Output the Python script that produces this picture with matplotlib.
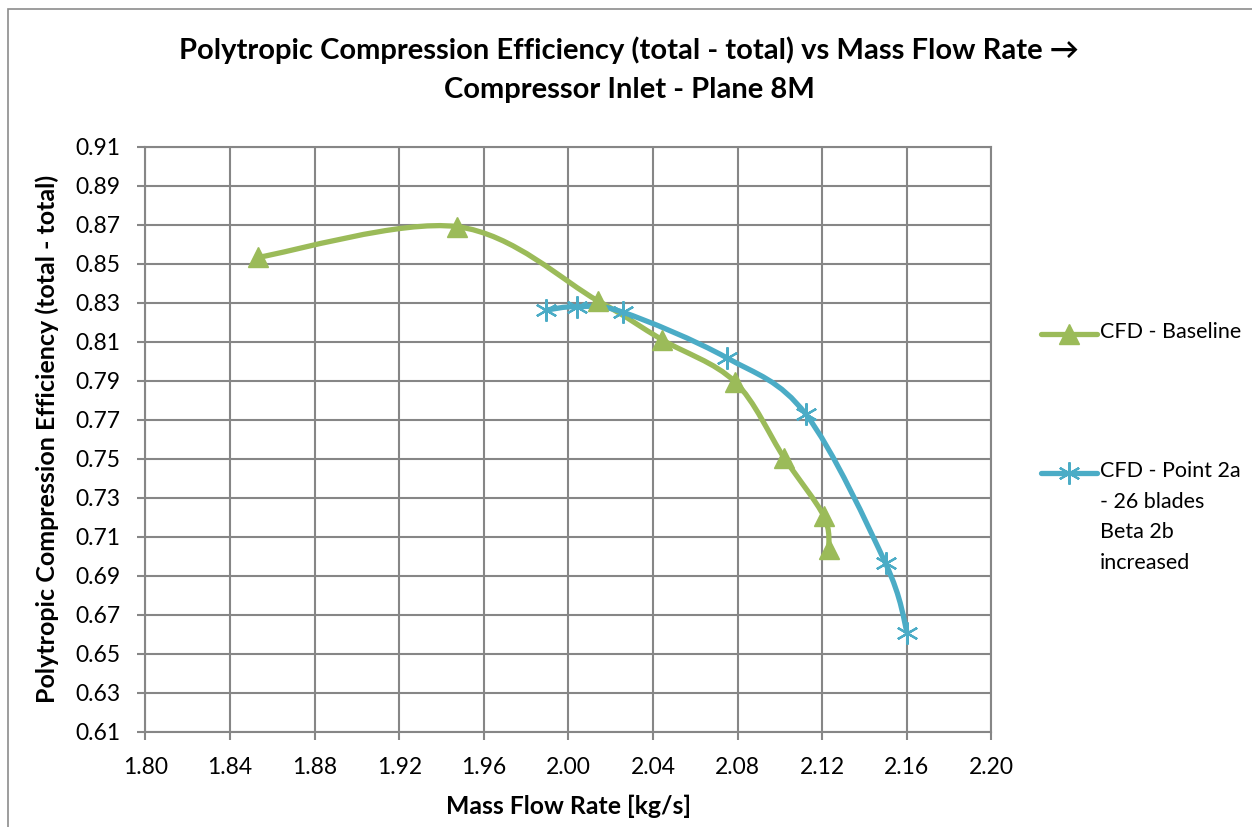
import matplotlib
matplotlib.use("Agg")
import matplotlib.pyplot as plt
from matplotlib.path import Path
from matplotlib.patches import PathPatch, Rectangle
from matplotlib.lines import Line2D

# data
baseline_flow = [1.8533, 1.9474, 2.0139, 2.0443, 2.0787, 2.1020, 2.1208, 2.1232]
baseline_eff = [0.8533, 0.8690, 0.8310, 0.8110, 0.7895, 0.7505, 0.7205, 0.7035]
point2a_flow = [1.9894, 2.0039, 2.0256, 2.0748, 2.1123, 2.1500, 2.1602]
point2a_eff = [0.8262, 0.8280, 0.8252, 0.8018, 0.7728, 0.6963, 0.6608]

x_ticks = [1.80, 1.84, 1.88, 1.92, 1.96, 2.00, 2.04, 2.08, 2.12, 2.16, 2.20]
y_ticks = [0.61, 0.63, 0.65, 0.67, 0.69, 0.71, 0.73, 0.75, 0.77, 0.79,
           0.81, 0.83, 0.85, 0.87, 0.89, 0.91]

GREEN = "#9BBB59"
BLUE = "#4BACC6"
GRID = "#868686"
FONT = ["Lato", "DejaVu Sans"]

plt.rcParams["font.family"] = FONT


def smooth_path(xs, ys):
    # Excel-style smoothed line: cubic bezier through the points (Catmull-Rom)
    pts = list(zip(xs, ys))
    n = len(pts)
    verts = [pts[0]]
    codes = [Path.MOVETO]
    for i in range(n - 1):
        p0 = pts[max(i - 1, 0)]
        p1 = pts[i]
        p2 = pts[i + 1]
        p3 = pts[min(i + 2, n - 1)]
        c1 = (p1[0] + (p2[0] - p0[0]) / 6, p1[1] + (p2[1] - p0[1]) / 6)
        c2 = (p2[0] - (p3[0] - p1[0]) / 6, p2[1] - (p3[1] - p1[1]) / 6)
        verts += [c1, c2, p2]
        codes += [Path.CURVE4] * 3
    return Path(verts, codes)


fig = plt.figure(figsize=(12.52, 8.27), dpi=100)
ax = fig.add_axes([0.1162, 0.1152, 0.7918 - 0.1162, 0.8226 - 0.1152])

# chart border
fig.patches.append(Rectangle((7.5 / 1252, -0.01), 1.0, 1 - 9 / 827 + 0.01,
                             transform=fig.transFigure, fill=False,
                             edgecolor="#8c8c8c", linewidth=1.2))

ax.set_xlim(1.80, 2.20)
ax.set_ylim(0.61, 0.91)
ax.set_xticks(x_ticks)
ax.set_yticks(y_ticks)
ax.set_xticklabels([f"{v:.2f}" for v in x_ticks])
ax.set_yticklabels([f"{v:.2f}" for v in y_ticks])
ax.grid(True, color=GRID, linewidth=1.5)
ax.set_axisbelow(True)
for s in ax.spines.values():
    s.set_color(GRID)
    s.set_linewidth(1.5)
ax.tick_params(direction="out", length=6, width=1.5, color=GRID,
               labelsize=16.5, pad=12)

# curves
ax.add_patch(PathPatch(smooth_path(baseline_flow, baseline_eff), fill=False,
                       edgecolor=GREEN, linewidth=3.8, capstyle="round", zorder=3))
ax.add_patch(PathPatch(smooth_path(point2a_flow, point2a_eff), fill=False,
                       edgecolor=BLUE, linewidth=3.8, capstyle="round", zorder=3))
ax.plot(baseline_flow, baseline_eff, linestyle="none", marker="^",
        markersize=14, color=GREEN, zorder=4)
ax.plot(point2a_flow, point2a_eff, linestyle="none", marker=(6, 2, 0),
        markersize=16, markeredgewidth=1.6, color=BLUE, zorder=4)

ax.set_xlabel("Mass Flow Rate [kg/s]", fontsize=17.8, fontweight="bold", labelpad=12)
ax.set_ylabel("Polytropic Compression Efficiency (total - total)", fontsize=18,
              fontweight="bold", labelpad=12)

fig.text(629 / 1252, 1 - 50 / 827,
         "Polytropic Compression Efficiency (total - total) vs Mass Flow Rate \u2192",
         ha="center", va="center", fontsize=21, fontweight="bold")
fig.text(629 / 1252, 1 - 90 / 827,
         "Compressor Inlet - Plane 8M",
         ha="center", va="center", fontsize=21, fontweight="bold")

# legend drawn by hand, Excel style
legend_items = [(GREEN, "^", 14, 1.0, "CFD - Baseline", 334),
                (BLUE, (6, 2, 0), 16, 1.6,
                 "CFD - Point 2a\n- 26 blades\nBeta 2b\nincreased", 473)]
for color, mk, ms, mew, label, ypix in legend_items:
    yf = 1 - ypix / 827
    fig.add_artist(Line2D([1041 / 1252, 1097 / 1252], [yf, yf], color=color,
                          linewidth=3.8, solid_capstyle="round",
                          transform=fig.transFigure))
    fig.add_artist(Line2D([1069 / 1252], [yf], color=color, marker=mk,
                          markersize=ms, markeredgewidth=mew, linestyle="none",
                          transform=fig.transFigure))
    fig.text(1100 / 1252, yf + 12 / 827, label, ha="left", va="top",
             fontsize=15.5, linespacing=1.66)

fig.savefig("out.png", dpi=100)
